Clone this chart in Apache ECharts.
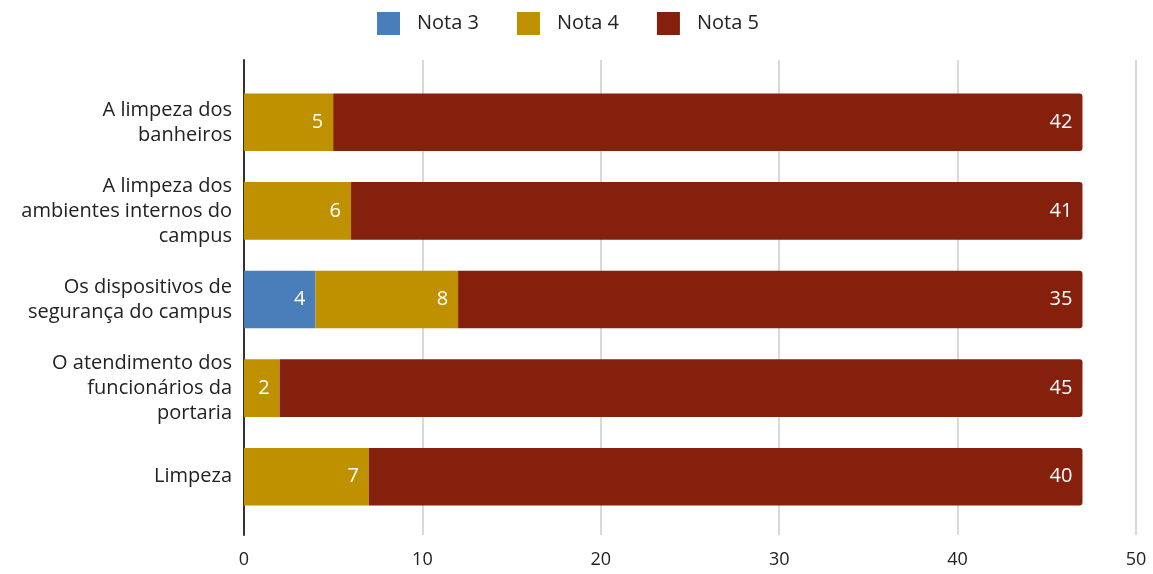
<!DOCTYPE html>
<html>
<head>
<meta charset="utf-8">
<script src="https://cdn.jsdelivr.net/npm/echarts@6/dist/echarts.min.js"></script>
<style>
  html, body { margin: 0; padding: 0; background: #fff; }
  #chart { width: 1153px; height: 574px; }
</style>
</head>
<body>
<div id="chart"></div>
<script>
// categorias, de cima para baixo
const categories = [
  'A limpeza dos\nbanheiros',
  'A limpeza dos\nambientes internos do\ncampus',
  'Os dispositivos de\nsegurança do campus',
  'O atendimento dos\nfuncionários da\nportaria',
  'Limpeza'
];
const nota3 = [0, 0, 4, 0, 0];
const nota4 = [5, 6, 8, 2, 7];
const nota5 = [42, 41, 35, 45, 40];
const xTicks = [0, 10, 20, 30, 40, 50];

const colors = ['#4a7ebb', '#bf9000', '#85200c'];
const font = '"Open Sans", "Noto Sans", sans-serif';

const chart = echarts.init(document.getElementById('chart'));

const makeSeries = (name, data, idx, radius) => ({
  name,
  type: 'bar',
  stack: 'total',
  data,
  xAxisIndex: 1,
  yAxisIndex: 1,
  barWidth: '65%',
  itemStyle: { color: colors[idx], borderRadius: radius },
  label: {
    show: true,
    position: 'insideRight',
    distance: 10,
    color: '#fff',
    fontSize: 20,
    fontFamily: font,
    formatter: p => (p.value ? String(p.value) : '')
  }
});

const xMin = xTicks[0];
const xMax = xTicks[xTicks.length - 1];

chart.setOption({
  animation: false,
  color: colors,
  textStyle: { fontFamily: font },
  legend: {
    top: 12,
    left: 377,
    padding: 0,
    itemWidth: 23,
    itemHeight: 23,
    itemGap: 38,
    icon: 'rect',
    itemStyle: { borderRadius: 2 },
    textStyle: { fontSize: 20, color: '#222', fontFamily: font, padding: [0, 0, 0, 12] },
    data: ['Nota 3', 'Nota 4', 'Nota 5']
  },
  // grid 0: linhas de grade e eixo; grid 1: barras
  grid: [
    { left: 244, right: 17, top: 60, bottom: 39 },
    { left: 244, right: 17, top: 78, bottom: 53 }
  ],
  xAxis: [
    {
      gridIndex: 0,
      type: 'value',
      min: xMin,
      max: xMax,
      interval: 10,
      axisLine: { show: false },
      axisTick: { show: false },
      axisLabel: { fontSize: 18, color: '#222', margin: 16, fontFamily: font },
      splitLine: { lineStyle: { color: '#cccccc', width: 1.5 } }
    },
    {
      gridIndex: 1,
      type: 'value',
      min: xMin,
      max: xMax,
      interval: 10,
      show: false
    }
  ],
  yAxis: [
    {
      gridIndex: 0,
      type: 'value',
      axisLine: { show: true, onZero: false, lineStyle: { color: '#333', width: 2 } },
      axisTick: { show: false },
      axisLabel: { show: false },
      splitLine: { show: false }
    },
    {
      gridIndex: 1,
      type: 'category',
      data: categories,
      inverse: true,
      axisLine: { show: false },
      axisTick: { show: false },
      axisLabel: { fontSize: 20, color: '#222', margin: 12, lineHeight: 25, align: 'right', fontFamily: font }
    }
  ],
  series: [
    makeSeries('Nota 3', nota3, 0, 0),
    makeSeries('Nota 4', nota4, 1, 0),
    makeSeries('Nota 5', nota5, 2, [0, 3, 3, 0])
  ]
});

window.addEventListener('resize', () => chart.resize());
</script>
</body>
</html>
